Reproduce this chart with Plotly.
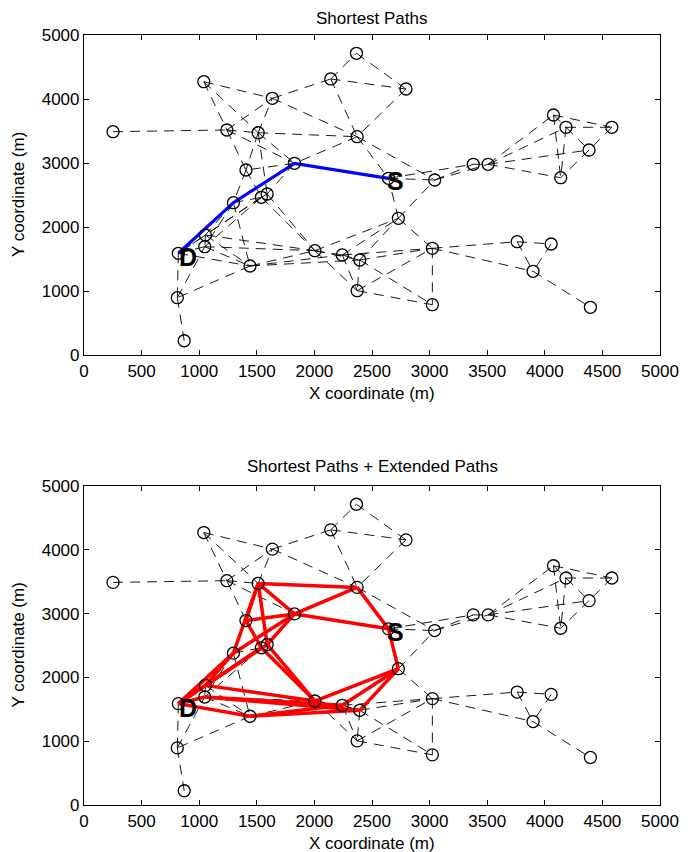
import plotly.graph_objects as go

# ---- node data (metres) ----
NODE_NAMES = ["n1", "n2", "n3", "n4", "n5", "n6", "n7", "n8", "n9", "n10",
              "n11", "n12", "n13a", "n13b", "D", "n15a", "n15b", "n16", "n17", "n18",
              "n19", "n20", "n21", "n22", "n23", "n24", "n25", "n26", "n27", "n28",
              "n29", "S", "n31", "n32", "n33", "n34", "n35", "n36", "n37", "n38"]
NODE_X = [252, 1040, 1240, 1512, 1635, 2142, 2365, 2795, 2371, 1827,
          1406, 1297, 1540, 1590, 819, 1054, 1048, 1441, 810, 870,
          2004, 2242, 2394, 2371, 2729, 3024, 3024, 3760, 4055, 3898,
          4396, 2643, 3044, 3379, 3508, 4075, 4184, 4582, 4384, 4138]
NODE_Y = [3489, 4270, 3516, 3473, 4011, 4313, 4714, 4156, 3411, 2995,
          2891, 2380, 2464, 2516, 1589, 1875, 1692, 1391, 895, 223,
          1630, 1563, 1484, 1005, 2136, 1667, 786, 1770, 1734, 1308,
          745, 2761, 2734, 2980, 2980, 3750, 3558, 3558, 3203, 2770]

# ---- network links (dashed) ----
LINKS = [("n1", "n3"), ("n2", "n3"), ("n2", "n4"), ("n2", "n5"),
         ("n3", "n4"), ("n3", "n5"), ("n3", "n11"), ("n3", "n10"),
         ("n4", "n5"), ("n4", "n9"), ("n4", "n10"), ("n4", "n11"), ("n4", "n13b"),
         ("n5", "n6"), ("n5", "n9"), ("n6", "n7"), ("n6", "n8"), ("n6", "n9"),
         ("n7", "n8"), ("n8", "n9"), ("n9", "n10"), ("n9", "S"), ("n9", "n31"),
         ("n10", "n12"), ("n10", "S"), ("n10", "n11"), ("n10", "n13b"),
         ("n11", "n12"), ("n11", "n13a"),
         ("n12", "n13a"), ("n12", "D"), ("n12", "n15a"), ("n12", "n15b"), ("n12", "n16"),
         ("n13a", "n13b"), ("n13a", "n15a"), ("n13a", "n15b"), ("n13a", "n19"),
         ("n13b", "n19"), ("n13a", "D"),
         ("D", "n15a"), ("D", "n15b"), ("D", "n17"), ("D", "n16"),
         ("n15a", "n16"), ("n15a", "n19"), ("n15b", "n19"), ("n15b", "n16"), ("n15a", "n15b"),
         ("n16", "n19"), ("n16", "n20"), ("n16", "n21"), ("n16", "n17"),
         ("n17", "n18"), ("n17", "n15b"),
         ("n19", "n20"), ("n19", "n22"), ("n19", "n23"), ("n19", "n21"),
         ("n20", "n21"), ("n20", "n22"), ("n20", "n23"), ("n20", "n24"),
         ("n21", "n22"), ("n21", "n23"), ("n21", "n24"), ("n21", "n25"),
         ("n22", "n24"), ("n22", "n25"),
         ("n23", "S"), ("n23", "n31"), ("n23", "n24"),
         ("n24", "n25"), ("n24", "n26"), ("n24", "n28"),
         ("n26", "n27"), ("n26", "n28"), ("n27", "n28"), ("n28", "n29"),
         ("S", "n31"), ("S", "n32"), ("n31", "n32"), ("n31", "n33"), ("n32", "n33"),
         ("n33", "n34"), ("n33", "n35"), ("n33", "n37"), ("n33", "n38"),
         ("n34", "n35"), ("n34", "n36"), ("n34", "n38"),
         ("n35", "n36"), ("n35", "n38"), ("n35", "n37"),
         ("n36", "n37"), ("n37", "n38")]

# ---- paths ----
SHORTEST_PATH = ["D", "n12", "n10", "S"]
EXTENDED_LINKS = [("D", "n12"), ("n12", "n10"), ("n10", "S"),
                  ("n10", "n9"), ("n9", "S"), ("n4", "n9"), ("n4", "n10"),
                  ("n4", "n12"), ("n4", "n13b"), ("n4", "n11"), ("n11", "n10"),
                  ("n13b", "n10"), ("n11", "n13a"),
                  ("D", "n13a"), ("D", "n13b"), ("D", "n15b"), ("D", "n15a"),
                  ("n15a", "n13a"), ("n15a", "n12"),
                  ("n13a", "n19"), ("n13b", "n19"),
                  ("n15a", "n19"), ("n15b", "n20"), ("n15b", "n21"),
                  ("D", "n16"), ("n16", "n21"), ("n16", "n20"),
                  ("n19", "n23"), ("n20", "n23"), ("n21", "n23"), ("n23", "S")]

SRC, DST = "S", "D"
TITLES = ["Shortest Paths", "Shortest Paths + Extended Paths"]
X_TICKS = [0, 500, 1000, 1500, 2000, 2500, 3000, 3500, 4000, 4500, 5000]
Y_TICKS = [0, 1000, 2000, 3000, 4000, 5000]

idx = {n: i for i, n in enumerate(NODE_NAMES)}


def seg_xy(pairs):
    xs, ys = [], []
    for a, b in pairs:
        xs += [NODE_X[idx[a]], NODE_X[idx[b]], None]
        ys += [NODE_Y[idx[a]], NODE_Y[idx[b]], None]
    return xs, ys


FONT = "Liberation Sans, Arial, Helvetica, sans-serif"
fig = go.Figure()

for k, (xa, ya) in enumerate([("x", "y"), ("x2", "y2")]):
    lx, ly = seg_xy(LINKS)
    fig.add_trace(go.Scatter(x=lx, y=ly, mode="lines", xaxis=xa, yaxis=ya,
                             line=dict(color="black", width=0.9, dash="10px,7px"),
                             hoverinfo="skip", showlegend=False))
    if k == 0:
        px = [NODE_X[idx[n]] for n in SHORTEST_PATH]
        py = [NODE_Y[idx[n]] for n in SHORTEST_PATH]
        fig.add_trace(go.Scatter(x=px, y=py, mode="lines", xaxis=xa, yaxis=ya,
                                 line=dict(color="#0000ff", width=3.2),
                                 showlegend=False))
    else:
        rx, ry = seg_xy(EXTENDED_LINKS)
        fig.add_trace(go.Scatter(x=rx, y=ry, mode="lines", xaxis=xa, yaxis=ya,
                                 line=dict(color="#ff0000", width=3.5),
                                 showlegend=False))
    fig.add_trace(go.Scatter(x=NODE_X, y=NODE_Y, mode="markers", xaxis=xa, yaxis=ya,
                             marker=dict(symbol="circle-open", size=12,
                                         color="black", line=dict(width=1.3, color="black")),
                             showlegend=False))
    for lab, dx, dy in [(SRC, 7, -3), (DST, 10, -4)]:
        fig.add_annotation(x=NODE_X[idx[lab]], y=NODE_Y[idx[lab]], xref=xa, yref=ya,
                           text="<b>%s</b>" % lab, showarrow=False,
                           xshift=dx, yshift=dy,
                           font=dict(family=FONT, size=25, color="black"))

axis_common = dict(range=[0, 5000], showline=True, mirror="ticks", linecolor="black",
                   linewidth=1.2, ticks="inside", ticklen=5, tickcolor="black",
                   showgrid=False, zeroline=False,
                   tickfont=dict(family=FONT, size=17, color="black"))

top_dom = [(805 - 355) / 770, 1.0]
bot_dom = [0.0, (805 - 486) / 770]

fig.update_layout(
    width=691, height=852,
    margin=dict(l=84, r=21, t=35, b=47),
    paper_bgcolor="white", plot_bgcolor="white",
    font=dict(family=FONT, size=17, color="black"),
    xaxis=dict(axis_common, tickvals=X_TICKS, anchor="y", domain=[0, 1]),
    yaxis=dict(axis_common, tickvals=Y_TICKS, anchor="x", domain=top_dom),
    xaxis2=dict(axis_common, tickvals=X_TICKS, anchor="y2", domain=[0, 1]),
    yaxis2=dict(axis_common, tickvals=Y_TICKS, anchor="x2", domain=bot_dom),
)

for dom, title, shift in [(top_dom, TITLES[0], 17), (bot_dom, TITLES[1], 19)]:
    fig.add_annotation(x=0.5, y=dom[1], xref="paper", yref="paper", text=title,
                       showarrow=False, yshift=shift, yanchor="middle",
                       font=dict(family=FONT, size=17, color="black"))
    fig.add_annotation(x=0.5, y=dom[0], xref="paper", yref="paper",
                       text="X coordinate (m)", showarrow=False, yshift=-38,
                       yanchor="middle", font=dict(family=FONT, size=17, color="black"))
    fig.add_annotation(x=0, y=(dom[0] + dom[1]) / 2, xref="paper", yref="paper",
                       text="Y coordinate (m)", showarrow=False, xshift=-66,
                       textangle=-90, xanchor="center", yanchor="middle",
                       font=dict(family=FONT, size=17, color="black"))

fig.write_html("out.html")
